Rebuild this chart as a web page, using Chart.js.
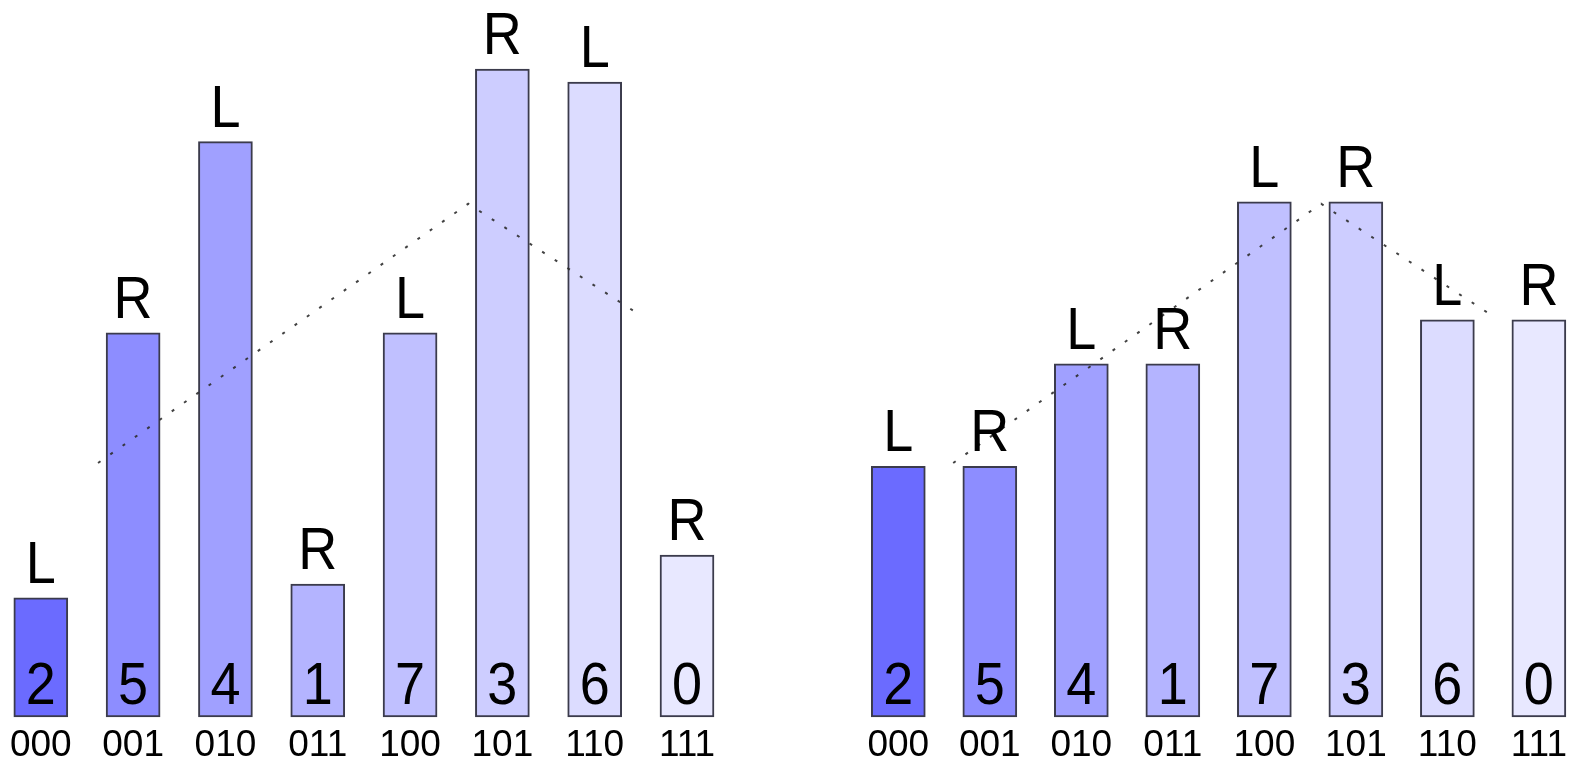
<!DOCTYPE html>
<html>
<head>
<meta charset="utf-8">
<script src="https://cdn.jsdelivr.net/npm/chart.js@4/dist/chart.umd.min.js"></script>
<style>
  html, body { margin: 0; padding: 0; background: #ffffff; }
  #wrap { position: relative; width: 1574px; height: 766px; overflow: hidden; }
  canvas { position: absolute; top: 0; }
  #cL { left: 0; }
  #cR { left: 787px; }
</style>
</head>
<body>
<div id="wrap">
  <canvas id="cL" width="787" height="766"></canvas>
  <canvas id="cR" width="787" height="766"></canvas>
</div>
<script>
// ---- data ----
const categories = ['000', '001', '010', '011', '100', '101', '110', '111'];
const binNumbers = ['2', '5', '4', '1', '7', '3', '6', '0'];
const leftValues = [18.4, 59.3, 88.8, 20.5, 59.3, 100, 98.0, 25.0];
const rightValues = [38.7, 38.7, 54.5, 54.5, 79.5, 79.5, 61.3, 61.3];
const leftSides = ['L', 'R', 'L', 'R', 'L', 'R', 'L', 'R'];
const rightSides = ['L', 'R', 'L', 'R', 'L', 'R', 'L', 'R'];
// dotted trend line (x in category-index units)
const leftLineX = [0.62, 4.63, 6.44];
const leftLineY = [39.2, 79.2, 62.5];
const rightLineX = [0.6, 4.62, 6.45];
const rightLineY = [39.2, 79.2, 62.3];
const barColors = ['#6b6bff', '#8d8dff', '#a0a0ff', '#b4b4ff', '#c0c0ff', '#cdcdff', '#dcdcff', '#e8e8ff'];

const FONT = "'Liberation Sans', Arial, Helvetica, sans-serif";

const textPlugin = {
  id: 'barTexts',
  afterDatasetsDraw(chart) {
    const meta = chart.getDatasetMeta(0);
    const sides = chart.options.plugins.barTexts.sides;
    const ctx = chart.ctx;
    ctx.save();
    ctx.fillStyle = '#000';
    ctx.textAlign = 'center';
    ctx.textBaseline = 'alphabetic';
    ctx.font = '54px ' + FONT;
    meta.data.forEach((el, i) => {
      const p = el.getProps(['x', 'y', 'base'], true);
      ctx.save();
      ctx.translate(p.x, p.base - 13);
      ctx.scale(1, 1.1);
      ctx.fillText(binNumbers[i], 0, 0);
      ctx.restore();
      ctx.save();
      ctx.translate(p.x, p.y - 15);
      ctx.scale(1, 1.1);
      ctx.fillText(sides[i], 0, 0);
      ctx.restore();
    });
    ctx.restore();
  }
};

function makeChart(id, values, sides, lineX, lineY, padLeft, padRight) {
  const lineData = lineX.map((x, i) => ({ x: x, y: lineY[i] }));
  return new Chart(document.getElementById(id), {
    type: 'bar',
    data: {
      labels: categories,
      datasets: [
        {
          type: 'bar',
          data: values,
          backgroundColor: barColors,
          borderColor: 'rgba(25,25,45,0.85)',
          borderWidth: 2,
          borderSkipped: false,
          barThickness: 54,
          grouped: false,
          clip: false,
          order: 2
        },
        {
          type: 'line',
          xAxisID: 'x2',
          data: lineData,
          borderColor: 'rgba(45,45,45,0.9)',
          borderWidth: 2,
          borderDash: [3, 12],
          pointRadius: 0,
          tension: 0,
          fill: false,
          clip: false,
          order: 1
        }
      ]
    },
    options: {
      responsive: false,
      animation: false,
      devicePixelRatio: 1,
      layout: { padding: { left: padLeft, right: padRight, top: 69, bottom: 0 } },
      plugins: {
        legend: { display: false },
        tooltip: { enabled: false },
        barTexts: { sides: sides }
      },
      scales: {
        x: {
          type: 'category',
          offset: false,
          grid: { display: false, drawTicks: false, offset: false },
          border: { display: false },
          ticks: {
            color: '#000',
            padding: 7,
            maxRotation: 0,
            autoSkip: false,
            font: { family: FONT, size: 37 }
          },
          afterFit(scale) { scale.height = 49; }
        },
        x2: {
          type: 'linear',
          axis: 'x',
          position: 'bottom',
          display: false,
          offset: false,
          grid: { offset: false },
          min: 0,
          max: 7
        },
        y: {
          display: false,
          min: 0,
          max: 100
        }
      }
    },
    plugins: [textPlugin]
  });
}

makeChart('cL', leftValues, leftSides, leftLineX, leftLineY, 40.8, 100);
makeChart('cR', rightValues, rightSides, rightLineX, rightLineY, 111.3, 31.8);
</script>
</body>
</html>
